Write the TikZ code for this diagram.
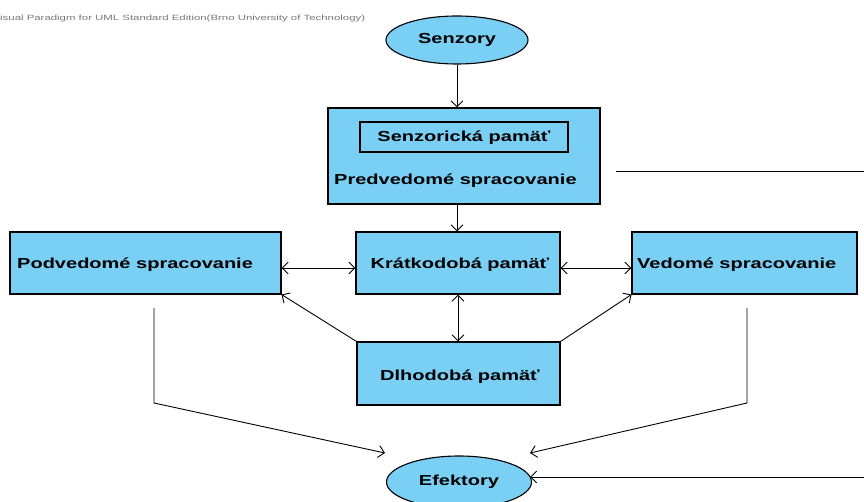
\documentclass[tikz,border=0pt]{standalone}
\usepackage{fontspec}
\setmainfont{Liberation Sans}
\usetikzlibrary{arrows.meta,shapes.geometric}
\definecolor{boxblue}{RGB}{122,207,245}
\definecolor{wmgray}{RGB}{120,120,120}
\newcommand{\widetxt}[1]{\scalebox{1.38}[1]{#1}}
\tikzset{
  blk/.style={draw=black, line width=1.1pt, fill=boxblue, inner sep=0pt},
  ell/.style={ellipse, draw=black, line width=1.1pt, fill=boxblue, inner sep=0pt},
  lbl/.style={font=\fontsize{14.5}{16}\selectfont\bfseries, inner sep=0pt},
  conn/.style={draw=black, line width=0.9pt},
  tip/.style={-{Straight Barb[length=6pt,width=12pt]}},
  dtip/.style={{Straight Barb[length=6pt,width=12pt]}-{Straight Barb[length=6pt,width=12pt]}},
}
\begin{document}
\begin{tikzpicture}[x=1pt,y=1pt]
\useasboundingbox (0,0) rectangle (864,-502);
\fill[white] (0,0) rectangle (864,-502);
% watermark
\node[anchor=west, text=wmgray, font=\fontsize{7.6}{9}\selectfont, inner sep=0pt] (wm) at (0,-19) {\scalebox{1.5}[1]{isual Paradigm for UML Standard Edition(Brno University of Technology)}};
% nodes
\node[ell, minimum width=142pt, minimum height=48pt] (sen) at (457,-40) {};
\node[lbl] (sent) at (457,-40) {\widetxt{Senzory}};
\node[blk, minimum width=272pt, minimum height=96pt] (pred) at (464,-156) {};
\node[draw=black, line width=1.1pt, minimum width=208pt, minimum height=30pt, inner sep=0pt] (spam) at (464,-137) {};
\node[lbl] (spamt) at (464,-138) {\widetxt{Senzorická pamäť}};
\node[lbl, anchor=west] (predt) at (334,-181) {\widetxt{Predvedomé spracovanie}};
\node[blk, minimum width=204pt, minimum height=62pt] (kr) at (458,-263) {};
\node[lbl] (krt) at (460,-265) {\widetxt{Krátkodobá pamäť}};
\node[blk, minimum width=271pt, minimum height=62pt] (pod) at (145.5,-263) {};
\node[lbl, anchor=west] (podt) at (17,-265) {\widetxt{Podvedomé spracovanie}};
\node[blk, minimum width=225pt, minimum height=62pt] (ved) at (744.5,-263) {};
\node[lbl, anchor=west] (vedt) at (637,-265) {\widetxt{Vedomé spracovanie}};
\node[blk, minimum width=203pt, minimum height=63pt] (dl) at (458.5,-373.5) {};
\node[lbl] (dlt) at (460,-377) {\widetxt{Dlhodobá pamäť}};
\node[ell, minimum width=145pt, minimum height=52pt] (ef) at (459,-482) {};
\node[lbl] (eft) at (459,-482) {\widetxt{Efektory}};
% coordinates
\coordinate (lr1) at (616,-171);
\coordinate (lr2) at (864,-171);
\coordinate (pl1) at (154,-308);
\coordinate (pl2) at (154,-403);
\coordinate (pl3) at (385,-453);
\coordinate (vr1) at (747,-308);
\coordinate (vr2) at (747,-403);
\coordinate (vr3) at (530,-453);
\coordinate (er) at (864,-477);
\coordinate (ee) at (530,-477);
% connectors
\draw[conn, tip] (sen.south) -- (sen.south |- pred.north);
\draw[conn, tip] (sen.south |- pred.south) -- (sen.south |- kr.north);
\draw[conn] (lr1) -- (lr2);
\draw[conn, dtip] (pod.east |- 0,-268) -- (kr.west |- 0,-268);
\draw[conn, dtip] (kr.east |- 0,-268) -- (ved.west |- 0,-268);
\draw[conn, dtip] (kr.south) -- (dl.north -| kr.south);
\draw[conn, tip] (dl.north west) -- (pod.south east);
\draw[conn, tip] (dl.north east) -- (ved.south west);
\draw[conn, tip] (pl1) -- (pl2) -- (pl3);
\draw[conn, tip] (vr1) -- (vr2) -- (vr3);
\draw[conn, tip] (er) -- (ee);
\end{tikzpicture}
\end{document}
